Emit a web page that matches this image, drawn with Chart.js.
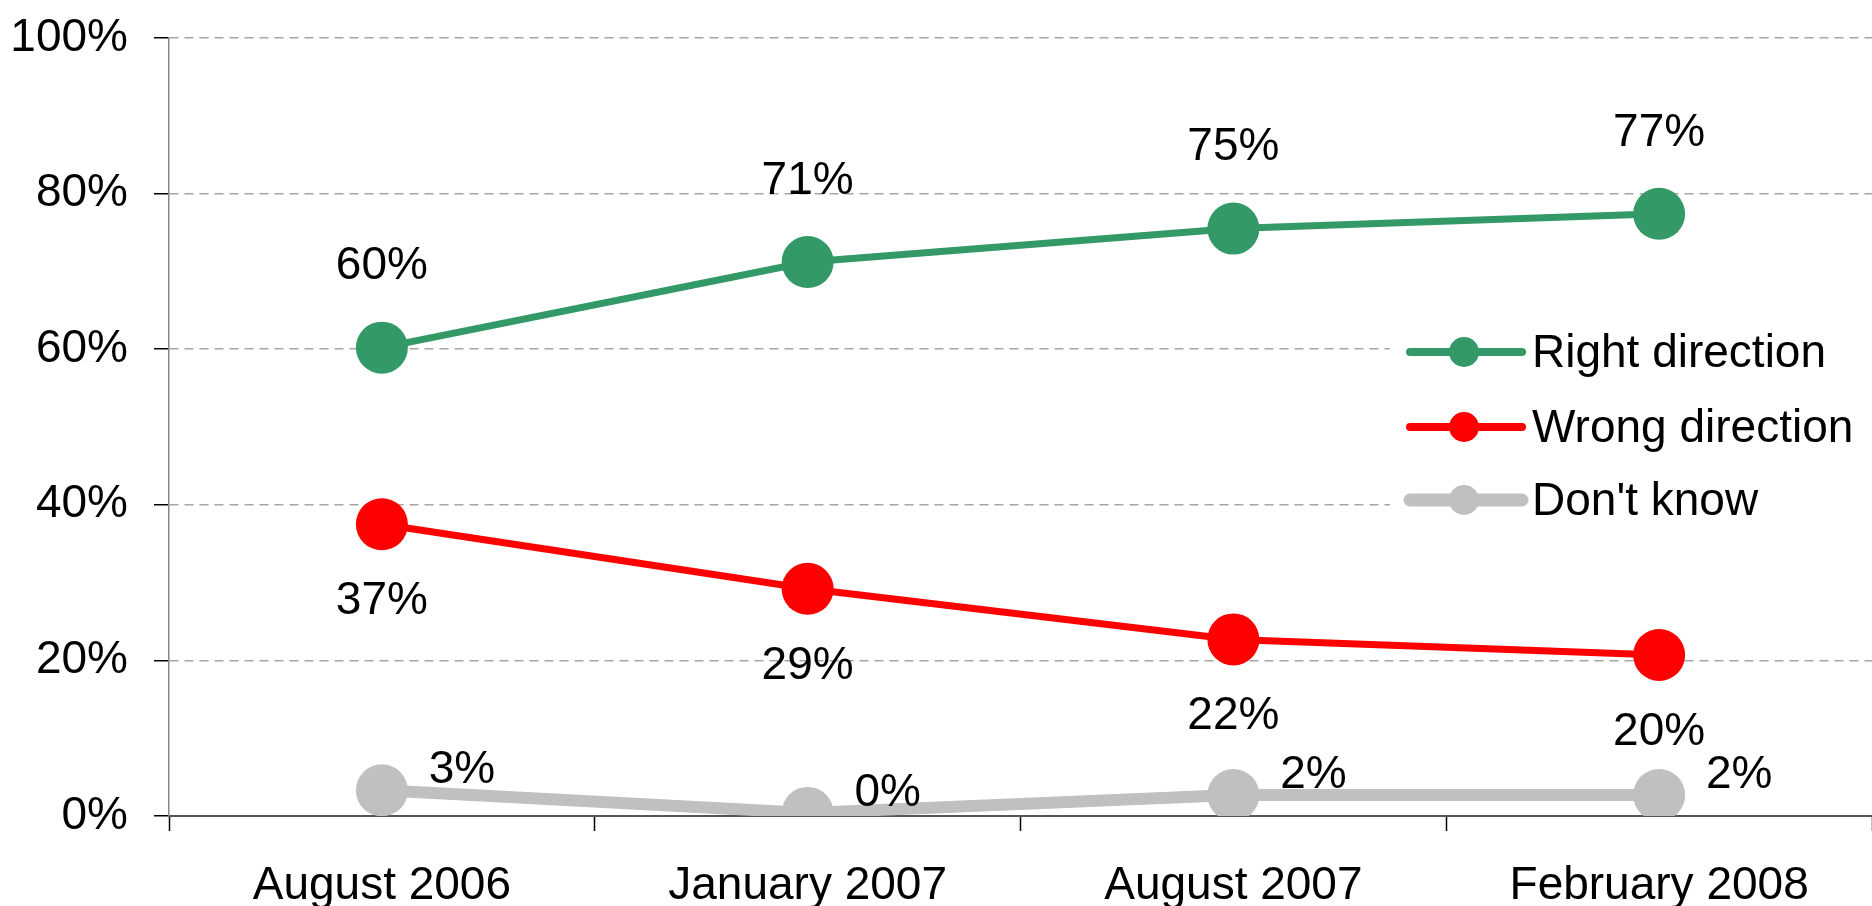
<!DOCTYPE html>
<html>
<head>
<meta charset="utf-8">
<script src="https://cdn.jsdelivr.net/npm/chart.js@4.4.1/dist/chart.umd.min.js"></script>
<style>
  html, body { margin: 0; padding: 0; background: #fff; }
  #wrap { width: 1872px; height: 906px; }
</style>
</head>
<body>
<div id="wrap"><canvas id="trendChart" width="1872" height="906"></canvas></div>
<script>
// values (labels show the truncated percent)
const categories = ['August 2006', 'January 2007', 'August 2007', 'February 2008'];
const seriesNames = ['Right direction', 'Wrong direction', "Don't know"];
const rightDirection = [60.2, 71.2, 75.5, 77.4];
const wrongDirection = [37.5, 29.2, 22.7, 20.7];
const dontKnow = [3.3, 0.4, 2.7, 2.7];
const yTicks = [0, 20, 40, 60, 80, 100];

const FONT = '"Liberation Sans", Arial, sans-serif';
const FONT_SIZE = 46;

// percent labels next to each point
const pointLabels = {
    id: 'pointLabels',
    afterDatasetsDraw(chart) {
        const ctx = chart.ctx;
        ctx.save();
        ctx.font = FONT_SIZE + 'px ' + FONT;
        ctx.fillStyle = '#000';
        ctx.textAlign = 'center';
        ctx.textBaseline = 'middle';
        chart.data.datasets.forEach((ds, i) => {
            const off = ds.labelOffset;
            chart.getDatasetMeta(i).data.forEach((pt, j) => {
                ctx.fillText(Math.floor(ds.data[j]) + '%', pt.x + off.x, pt.y + off.y);
            });
        });
        ctx.restore();
    }
};

// legend sitting inside the plot, on a white box that hides the grid
const sideLegend = {
    id: 'sideLegend',
    afterDraw(chart) {
        const ctx = chart.ctx;
        const area = chart.chartArea;
        const boxLeft = area.right - 482;
        const lineX0 = boxLeft + 20, lineX1 = boxLeft + 132, markX = boxLeft + 74;
        const textX = boxLeft + 142;
        const rowY = [352, 427, 500];
        ctx.save();
        ctx.fillStyle = '#fff';
        ctx.fillRect(boxLeft, 318, area.right - boxLeft, 218);
        ctx.font = FONT_SIZE + 'px ' + FONT;
        ctx.textAlign = 'left';
        ctx.textBaseline = 'middle';
        chart.data.datasets.forEach((ds, i) => {
            const y = rowY[i];
            ctx.strokeStyle = ds.borderColor;
            ctx.lineWidth = ds.borderWidth + 1;
            ctx.lineCap = 'round';
            ctx.beginPath();
            ctx.moveTo(lineX0, y);
            ctx.lineTo(lineX1, y);
            ctx.stroke();
            ctx.fillStyle = ds.borderColor;
            ctx.beginPath();
            ctx.arc(markX, y, 15, 0, Math.PI * 2);
            ctx.fill();
            ctx.fillStyle = '#000';
            ctx.fillText(ds.label, textX, y + 2);
        });
        ctx.restore();
    }
};

const ctx = document.getElementById('trendChart').getContext('2d');

new Chart(ctx, {
    type: 'line',
    data: {
        labels: categories,
        datasets: [{
            label: seriesNames[0],
            data: rightDirection,
            borderColor: '#339966',
            backgroundColor: '#339966',
            borderWidth: 7,
            pointRadius: 26,
            pointBorderWidth: 0,
            labelOffset: { x: 0, y: -81 }
        }, {
            label: seriesNames[1],
            data: wrongDirection,
            borderColor: '#ff0000',
            backgroundColor: '#ff0000',
            borderWidth: 7,
            pointRadius: 26,
            pointBorderWidth: 0,
            labelOffset: { x: 0, y: 77 }
        }, {
            label: seriesNames[2],
            data: dontKnow,
            borderColor: '#c0c0c0',
            backgroundColor: '#c0c0c0',
            borderWidth: 12,
            pointRadius: 26,
            pointBorderWidth: 0,
            labelOffset: { x: 80, y: -20 }
        }]
    },
    options: {
        responsive: false,
        animation: false,
        layout: { autoPadding: false, padding: { top: 38, right: 0, bottom: 0, left: 0 } },
        plugins: {
            legend: { display: false },
            tooltip: { enabled: false }
        },
        scales: {
            x: {
                offset: true,
                grid: {
                    offset: true,
                    drawOnChartArea: false,
                    tickLength: 15,
                    tickColor: '#000',
                    tickWidth: 1.5
                },
                border: { color: '#555', width: 2 },
                ticks: {
                    color: '#000',
                    font: { family: FONT, size: FONT_SIZE },
                    padding: 28,
                    maxRotation: 0,
                    autoSkip: false
                },
                afterFit(scale) {
                    scale.height = 90;
                    scale.paddingLeft = 0;
                    scale.paddingRight = 0;
                }
            },
            y: {
                min: 0,
                max: 100,
                afterBuildTicks(scale) {
                    scale.ticks = yTicks.map(v => ({ value: v }));
                },
                grid: {
                    color: '#a6a6a6',
                    lineWidth: 1.5,
                    tickLength: 15,
                    tickColor: '#000',
                    tickWidth: 1.5,
                    tickBorderDash: []
                },
                border: { color: '#888', width: 1.5, dash: [9, 6] },
                ticks: {
                    color: '#000',
                    font: { family: FONT, size: FONT_SIZE },
                    padding: 26,
                    callback: v => v + '%'
                },
                afterFit(scale) {
                    scale.width = 169;
                    scale.paddingTop = 0;
                    scale.paddingBottom = 0;
                }
            }
        }
    },
    plugins: [pointLabels, sideLegend]
});
</script>
</body>
</html>
